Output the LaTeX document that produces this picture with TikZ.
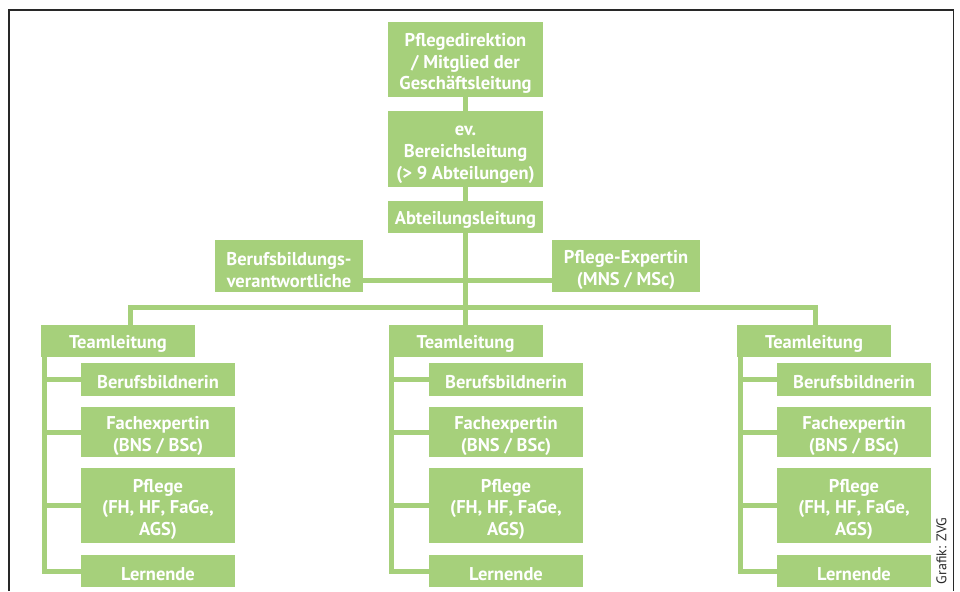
\documentclass[tikz,border=0pt]{standalone}
\usepackage{fontspec}
\setmainfont{PT Sans}
\usetikzlibrary{calc}
\definecolor{lgreen}{RGB}{166,208,123}
\definecolor{framegray}{RGB}{40,40,40}
\newcommand{\firstln}{\rule{0pt}{21pt}}
\begin{document}
\begin{tikzpicture}[x=1pt,y=-1pt,
  box/.style={fill=lgreen, text=white, inner sep=0pt, align=center,
    font=\bfseries\fontsize{18.5}{21.7}\selectfont,
    execute at begin node={\rule{0pt}{19pt}}},
  conn/.style={draw=lgreen, line width=5pt}]
\useasboundingbox (0,0) rectangle (960,591);
% frame
\draw[framegray, line width=1.6pt] (8.8,591) -- (8.8,9.8) -- (953.5,9.8) -- (953.5,591);
\node[rotate=90, text=framegray, font=\fontsize{14}{16}\selectfont] (credit) at (941.5,551) {Grafik: ZVG};
% top chain
\node[box, minimum width=155pt, minimum height=75pt] (pd) at (465.5,59.5) {\firstln Pflegedirektion\\/ Mitglied der\\Geschäftsleitung};
\node[box, minimum width=155pt, minimum height=76pt] (bl) at (465.5,149) {\firstln ev.\\Bereichsleitung\\(> 9 Abteilungen)};
\node[box, minimum width=155pt, minimum height=32pt] (al) at (465.5,217) {Abteilungsleitung};
\node[box, minimum width=148pt, minimum height=52pt] (bbv) at (289,266) {\firstln Berufsbildungs-\\verantwortliche};
\node[box, minimum width=148pt, minimum height=52pt] (pe) at (626,266) {\firstln Pflege-Expertin\\(MNS / MSc)};
% coordinates
\coordinate (side) at (465.5,280);
\coordinate (busL) at (130.5,307.5);
\coordinate (busR) at (815.5,307.5);
% team columns
\foreach \n/\tx/\cx in {L/118/158, M/465.5/506, R/814/854}{
  \node[box, minimum width=154pt, minimum height=32pt] (tl\n) at (\tx,341) {Teamleitung};
  \node[box, minimum width=154pt, minimum height=33pt] (bb\n) at (\cx,379.5) {Berufsbildnerin};
  \node[box, minimum width=154pt, minimum height=50pt] (fe\n) at (\cx,432) {\firstln Fachexpertin\\(BNS / BSc)};
  \node[box, minimum width=154pt, minimum height=75pt] (pf\n) at (\cx,505.5) {\firstln Pflege\\(FH, HF, FaGe,\\AGS)};
  \node[box, minimum width=154pt, minimum height=32pt] (le\n) at (\cx,571) {Lernende};
  \coordinate (v\n) at ($(tl\n.south west)+(3.5,0)$);
}
\foreach \n in {L,M,R}{
  \draw[conn] (v\n) |- (le\n.west);
  \draw[conn] (v\n) |- (bb\n.west);
  \draw[conn] (v\n) |- (fe\n.west);
  \draw[conn] (v\n) |- (pf\n.west);
}
\draw[conn] (pd.south) -- (bl.north);
\draw[conn] (bl.south) -- (al.north);
\draw[conn] (al.south) -- (tlM.north -| al.south);
\draw[conn] (bbv.east |- side) -- (pe.west |- side);
\draw[conn] (tlL.north -| busL) -- (busL) -- (busR) -- (tlR.north -| busR);
\end{tikzpicture}
\end{document}
